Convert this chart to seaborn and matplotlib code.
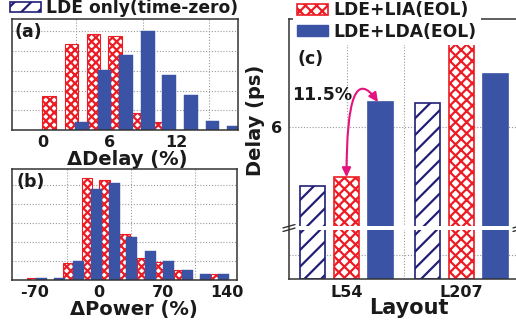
import numpy as np
import pandas as pd
import matplotlib
matplotlib.use("Agg")
import matplotlib.pyplot as plt
import seaborn as sns
from matplotlib.patches import Patch

# ---------------- data ----------------
# (a) delay-change histogram (bin positions in %, relative counts)
delay_lia_x = [0.55, 2.55, 4.55, 6.5, 8.45, 10.4]
delay_lia_h = [1.73, 4.37, 4.86, 4.78, 0.85, 0.39]
delay_lda_x = [3.55, 5.55, 7.5, 9.45, 11.4, 13.35, 15.3, 17.25]
delay_lda_h = [0.39, 3.02, 3.80, 5.00, 2.78, 1.75, 0.46, 0.22]
delay_ticks = [0, 6, 12]

# (b) power-change histogram
power_lia_x = [-73.4, -33.8, -13.1, 6.0, 27.8, 46.9, 67.1, 87.2, 127.6]
power_lia_h = [0.12, 0.92, 5.38, 5.29, 2.42, 1.15, 0.93, 0.51, 0.30]
power_lda_x = [-62.5, -43.6, -22.9, -2.7, 16.4, 35.4, 56.2, 75.8, 96.0, 116.1, 136.3]
power_lda_h = [0.12, 0.12, 1.00, 4.81, 5.11, 2.29, 1.53, 1.00, 0.53, 0.30, 0.30]
power_ticks = [-70, 0, 70, 140]

# (c) delay per layout (ps)
layouts = ["L54", "L207"]
conditions = ["LDE only(time-zero)", "LDE+LIA(EOL)", "LDE+LDA(EOL)"]
delay_lde = [5.49, 6.20]
delay_lia = [5.57, 6.72]
delay_lda = [6.21, 6.45]
delay_c_ticks = [1, 6]
delay_c_ticklabels = ["", "6"]

# ---------------- style ----------------
NAVY = "#231F78"
RED = "#ED1C24"
BLUE = "#3A53A4"
GRID = "#9A9A9A"
SPINE = "#333333"
MAGENTA = "#E5137E"
TXT = "#1A1A1A"

sns.set_theme(style="white")
plt.rcParams["font.family"] = ["DejaVu Sans"]
plt.rcParams["font.weight"] = "bold"
plt.rcParams["axes.labelweight"] = "bold"
plt.rcParams["hatch.linewidth"] = 1.6
plt.rcParams["axes.edgecolor"] = SPINE
plt.rcParams["axes.linewidth"] = 1.1

W, H = 516, 320
fig = plt.figure(figsize=(W / 100, H / 100), dpi=100)

axA = fig.add_axes([12 / W, 1 - 130 / H, 226 / W, 111 / H])
axB = fig.add_axes([12 / W, 1 - 280 / H, 225 / W, 111 / H])
axC = fig.add_axes([289 / W, 1 - 279 / H, 230 / W, 260 / H])

grid_kw = dict(color=GRID, linestyle=(0, (1, 1.6)), linewidth=0.8)


def native_bars(ax, x, h, bar_w, kind):
    x = np.asarray(x, float)
    unit = np.diff(np.sort(x)).min()
    n0 = len(ax.patches)
    sns.barplot(x=x, y=h, native_scale=True, orient="x", width=bar_w / unit,
                errorbar=None, color=BLUE, ax=ax)
    for p in ax.patches[n0:]:
        if kind == "lia":
            p.set_facecolor("white")
            p.set_edgecolor(RED)
            p.set_hatch("xxxx")
            p.set_linewidth(0.8)
        else:
            p.set_facecolor(BLUE)
            p.set_edgecolor(BLUE)
            p.set_linewidth(0.3)


def hist_panel(ax, rx, rh, bx, bh, rw, bw, xlim, ylim, ticks, minor, label, lab_xy, tag, tag_xy):
    native_bars(ax, rx, rh, rw, "lia")
    native_bars(ax, bx, bh, bw, "lda")
    ax.set_xlim(*xlim)
    ax.set_ylim(*ylim)
    ax.set_xticks(ticks)
    ax.set_xticklabels([f"{t}" for t in ticks])
    ax.set_xticks(minor, minor=True)
    ax.set_yticks([1, 2, 3, 4, 5])
    ax.set_yticklabels([])
    ax.set_axisbelow(True)
    ax.yaxis.grid(True, which="major", **grid_kw)
    ax.xaxis.grid(False, which="major")
    ax.xaxis.grid(True, which="minor", **grid_kw)
    ax.tick_params(which="major", direction="in", length=3, width=1, color=SPINE,
                   labelsize=11.5, labelcolor=TXT, pad=3.5)
    ax.tick_params(which="minor", length=0)
    ax.tick_params(axis="x", which="major", length=0)
    ax.set_xlabel(label, fontsize=14, color=TXT)
    ax.xaxis.set_label_coords(*lab_xy)
    ax.set_ylabel("")
    ax.text(*tag_xy, tag, transform=ax.transAxes, ha="left", va="center",
            fontsize=12.5, color=TXT)


hist_panel(axA, delay_lia_x, delay_lia_h, delay_lda_x, delay_lda_h, 1.2, 1.25,
           (-2.8, 17.6), (0, 5.63), delay_ticks, [3, 9, 15], "\u0394Delay (%)",
           (0.511, -0.18), "(a)", (0.013, 0.887))
hist_panel(axB, power_lia_x, power_lia_h, power_lda_x, power_lda_h, 11, 12,
           (-94.9, 150.5), (0, 5.87), power_ticks, [-35, 35, 105], "\u0394Power (%)",
           (0.54, -0.18), "(b)", (0.022, 0.887))

# ---------------- (c) grouped bars with broken axis ----------------
dfc = pd.DataFrame({
    "layout": np.repeat(layouts, 3),
    "cond": conditions * len(layouts),
    "delay": [v for trio in zip(delay_lde, delay_lia, delay_lda) for v in trio],
})
sns.barplot(data=dfc, x="layout", y="delay", hue="cond", hue_order=conditions,
            order=layouts, palette=[NAVY, RED, BLUE], width=0.887, gap=0.265,
            errorbar=None, legend=False, ax=axC)
styles = [
    dict(fc="white", ec=NAVY, hatch="//"),
    dict(fc="white", ec=RED, hatch="xxx"),
    dict(fc=BLUE, ec=BLUE, hatch=None),
]
for cont, st in zip(axC.containers, styles):
    for p in cont:
        p.set_facecolor(st["fc"])
        p.set_edgecolor(st["ec"])
        p.set_hatch(st["hatch"])
        p.set_linewidth(1.2)
        p.set_zorder(1.5)

# piecewise (broken) y scale
LOW_TOP, BRK, LOW_PX, GAP_PX, S = 2.0, 5.152, 49.0, 4.0, 0.00854


def fwd(v):
    v = np.asarray(v, float)
    return np.where(v <= LOW_TOP, v * LOW_PX / LOW_TOP,
                    np.where(v <= BRK, LOW_PX + (v - LOW_TOP) / (BRK - LOW_TOP) * GAP_PX,
                             LOW_PX + GAP_PX + (v - BRK) / S))


def inv(t):
    t = np.asarray(t, float)
    return np.where(t <= LOW_PX, t * LOW_TOP / LOW_PX,
                    np.where(t <= LOW_PX + GAP_PX, LOW_TOP + (t - LOW_PX) / GAP_PX * (BRK - LOW_TOP),
                             BRK + (t - LOW_PX - GAP_PX) * S))


axC.set_yscale("function", functions=(fwd, inv))
axC.set_ylim(0, 6.92)
axC.set_xlim(-0.5, 1.5)
axC.set_yticks(delay_c_ticks)
axC.set_yticklabels(delay_c_ticklabels)
axC.set_yticks([], minor=True)
axC.set_xticks([0, 1])
axC.set_xticklabels(layouts)
axC.set_xticks([0.5, 1.5], minor=True)
axC.set_axisbelow(True)
axC.yaxis.grid(True, which="major", **grid_kw)
axC.xaxis.grid(True, which="both", **grid_kw)
axC.tick_params(which="major", direction="in", length=4, width=1, color=SPINE,
                labelsize=11.5, labelcolor=TXT, pad=4)
axC.tick_params(axis="y", which="major", pad=5)
axC.tick_params(which="minor", length=0)
axC.spines["right"].set_visible(False)
for sp in axC.spines.values():
    sp.set_zorder(3)
axC.set_xlabel("Layout", fontsize=15, color=TXT)
axC.xaxis.set_label_coords(0.52, -0.075)
axC.set_ylabel("Delay (ps)", fontsize=14, color=TXT)
axC.yaxis.set_label_coords(-0.105, 0.61)

# white break band + break marks
axC.axhspan(LOW_TOP, BRK, color="white", zorder=2.2, lw=0)
yb = 51 / 260
for xa in (0.0, 1.0):
    for dy in (0.0068, -0.0068):
        axC.plot([xa - 0.026, xa + 0.026], [yb + dy - 0.0065, yb + dy + 0.0065],
                 transform=axC.transAxes, clip_on=False, color=SPINE, lw=1.0, zorder=5)

# arrow showing the LIA -> LDA increase for L54
red_bar = axC.containers[1][0]
blue_bar = axC.containers[2][0]
axC.annotate("", xy=(blue_bar.get_x() + blue_bar.get_width() * 0.4, delay_lda[0]),
             xytext=(red_bar.get_x() + red_bar.get_width() / 2, delay_lia[0]),
             arrowprops=dict(arrowstyle="<|-|>,head_length=0.45,head_width=0.22",
                             connectionstyle="angle3,angleA=90,angleB=-55",
                             color=MAGENTA, lw=1.5, shrinkA=0, shrinkB=0),
             zorder=6)
axC.text(0.143, 0.708, "11.5%", transform=axC.transAxes, ha="center", va="center",
         fontsize=12.5, color=TXT)
axC.text(0.035, 0.848, "(c)", transform=axC.transAxes, ha="left", va="center",
         fontsize=12.5, color=TXT)

# ---------------- legends ----------------
h_lde = Patch(facecolor="white", edgecolor=NAVY, hatch="//", linewidth=1.2)
h_lia = Patch(facecolor="white", edgecolor=RED, hatch="xxx", linewidth=1.2)
h_lda = Patch(facecolor=BLUE, edgecolor=BLUE)
prop = {"weight": "bold", "size": 12.3}
fig.legend([h_lde], [conditions[0]], loc="upper left", bbox_to_anchor=(10 / W, 1 + 1 / H),
           frameon=False, prop=prop, handlelength=1.8, handleheight=0.6,
           handletextpad=0.3, borderpad=0, borderaxespad=0, labelcolor=TXT)
fig.legend([h_lia, h_lda], conditions[1:], loc="upper left",
           bbox_to_anchor=(293 / W, 1 + 3 / H), frameon=True, facecolor="white",
           edgecolor="none", framealpha=1, fancybox=False, prop=prop,
           handlelength=1.8, handleheight=0.6, handletextpad=0.3, labelspacing=0.2,
           borderpad=0.25, borderaxespad=0, labelcolor=TXT)

fig.savefig("out.png", dpi=100)
